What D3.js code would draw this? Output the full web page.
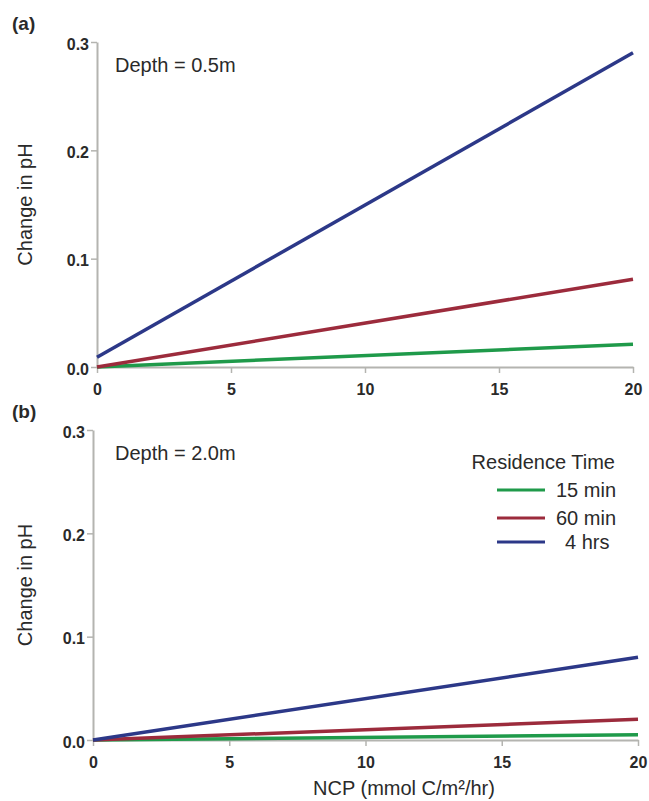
<!DOCTYPE html>
<html>
<head>
<meta charset="utf-8">
<script src="https://cdn.jsdelivr.net/npm/d3@7"></script>
<style>
  body { margin: 0; background: #fff; }
  text { font-family: "Liberation Sans", Arial, sans-serif; fill: #2a2a2a; }
</style>
</head>
<body>
<script>
// values
const ncp = [0, 20];
const seriesNames = ["15 min", "60 min", "4 hrs"];
const colors = ["#1f9a4a", "#9c2b3c", "#2c3888"];
const depthA = [[0, 0.021], [0, 0.081], [0.009, 0.290]];
const depthB = [[0, 0.005], [0, 0.020], [0, 0.080]];
const xTicks = [0, 5, 10, 15, 20];
const yTicks = [0, 0.1, 0.2, 0.3];

const svg = d3.select("body").append("svg")
  .attr("width", 649).attr("height", 801);

// draw one panel
function panel(opt) {
  const x = d3.scaleLinear().domain([0, 20]).range([opt.left, opt.right]);
  const y = d3.scaleLinear().domain([0, 0.3]).range([opt.bottom, opt.top]);
  const g = svg.append("g");

  const xAxis = g.append("g")
    .attr("transform", `translate(0,${opt.bottom})`)
    .call(d3.axisBottom(x).tickValues(xTicks).tickSize(6).tickSizeOuter(0));
  const yAxis = g.append("g")
    .attr("transform", `translate(${opt.left},0)`)
    .call(d3.axisLeft(y).tickValues(yTicks).tickSize(6).tickSizeOuter(0).tickFormat(d3.format(".1f")));

  [xAxis, yAxis].forEach(a => {
    a.select(".domain").attr("stroke", "#b4b4b0").attr("stroke-width", 2);
    a.selectAll(".tick line").attr("stroke", "#b4b4b0").attr("stroke-width", 1.5);
    a.selectAll(".tick text")
      .style("font-family", "Liberation Sans, Arial, sans-serif")
      .style("font-size", "16px").style("font-weight", "bold").attr("fill", "#2a2a2a");
  });
  xAxis.selectAll(".tick text").attr("y", 0).attr("dy", 28);
  yAxis.selectAll(".tick text").attr("x", -8).attr("dy", "0.45em");

  const line = d3.line().x(d => x(d[0])).y(d => y(d[1]));
  opt.data.forEach((s, i) => {
    g.append("path")
      .datum(ncp.map((n, j) => [n, s[j]]))
      .attr("d", line)
      .attr("fill", "none")
      .attr("stroke", colors[i])
      .attr("stroke-width", 3.5);
  });

  g.append("text").attr("x", 12).attr("y", opt.top - 12)
    .style("font-size", "19px").style("font-weight", "bold").text(opt.tag);
  g.append("text").attr("x", 115).attr("y", opt.top + 30)
    .style("font-size", "20px").text(opt.depth);
  g.append("text")
    .attr("transform", `translate(32,${(opt.top + opt.bottom) / 2}) rotate(-90)`)
    .attr("text-anchor", "middle")
    .style("font-size", "20px").text("Change in pH");
  return { x, y };
}

panel({ left: 97, right: 633, top: 42, bottom: 367, data: depthA, tag: "(a)", depth: "Depth = 0.5m" });
panel({ left: 93, right: 638, top: 430, bottom: 740, data: depthB, tag: "(b)", depth: "Depth = 2.0m" });

svg.append("text").attr("x", 404).attr("y", 795).attr("text-anchor", "middle")
  .style("font-size", "20px").text("NCP (mmol C/m²/hr)");

// legend
const legend = svg.append("g");
legend.append("text").attr("x", 615).attr("y", 469).attr("text-anchor", "end")
  .style("font-size", "20px").text("Residence Time");
const legendY = [490, 518, 542];
const labelX = [556, 556, 565];
seriesNames.forEach((n, i) => {
  legend.append("line").attr("x1", 497).attr("x2", 545)
    .attr("y1", legendY[i]).attr("y2", legendY[i])
    .attr("stroke", colors[i]).attr("stroke-width", 3);
  legend.append("text").attr("x", labelX[i]).attr("y", legendY[i] + 7)
    .style("font-size", "20px").text(n);
});
</script>
</body>
</html>
